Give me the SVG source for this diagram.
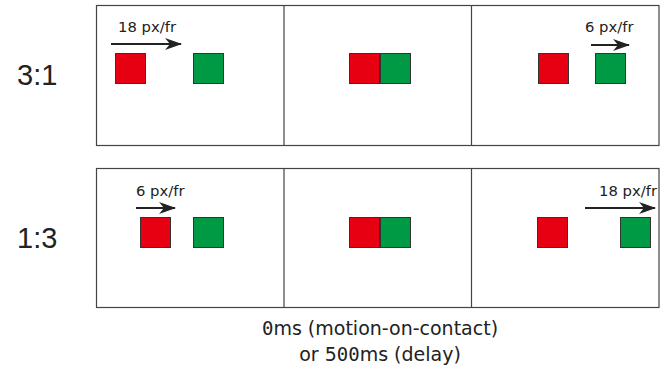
<svg xmlns="http://www.w3.org/2000/svg" width="665" height="369" viewBox="0 0 665 369">
<style>
.panel{fill:#fff;stroke:#444;stroke-width:1.2}
.div{stroke:#444;stroke-width:1.2}
.red{fill:#e60012;stroke:#333;stroke-width:1}
.green{fill:#009944;stroke:#333;stroke-width:1}
.arr{stroke:#222;stroke-width:2;fill:none}
.lbl{font-family:"DejaVu Sans",sans-serif;font-size:14.8px;fill:#222}
.row{font-family:"Liberation Sans",Arial,sans-serif;font-size:29px;fill:#222}
.cap{font-family:"DejaVu Sans",sans-serif;font-size:19px;fill:#222;text-anchor:middle}
.z{font-family:"DejaVu Sans Mono",monospace}
</style>
<defs>
<marker id="ah" markerUnits="userSpaceOnUse" markerWidth="18" markerHeight="14" refX="16" refY="6.5" orient="auto">
<path d="M0,0.5 L17,6.5 L0,12.5 L5,6.5 z" fill="#222"/>
</marker>
</defs>
<g id="row-labels">
<text class="row" x="17" y="85">3:1</text>
<text class="row" x="17" y="248">1:3</text>
</g>
<g id="panel-top">
<rect class="panel" x="96.5" y="5.5" width="562.5" height="140"/>
<line class="div" x1="284" y1="5.5" x2="284" y2="145.5"/>
<line class="div" x1="471.5" y1="5.5" x2="471.5" y2="145.5"/>
</g>
<g id="panel-bottom">
<rect class="panel" x="96.5" y="168.5" width="562.5" height="139"/>
<line class="div" x1="284" y1="168.5" x2="284" y2="307.5"/>
<line class="div" x1="471.5" y1="168.5" x2="471.5" y2="307.5"/>
</g>
<g id="t1">
<rect class="red" x="115.5" y="53.5" width="30" height="30"/>
<rect class="green" x="193.5" y="53.5" width="30" height="30"/>
<text class="lbl" x="118" y="31.5">18 px/fr</text>
</g>
<g id="t2">
<rect class="red" x="349.5" y="53.5" width="30" height="30"/>
<rect class="green" x="380.5" y="53.5" width="30" height="30"/>
</g>
<g id="t3">
<rect class="red" x="538.5" y="53.5" width="30" height="30"/>
<rect class="green" x="595.5" y="53.5" width="30" height="30"/>
<text class="lbl" x="585" y="31.5">6 px/fr</text>
</g>
<g id="b1">
<rect class="red" x="140.5" y="217.5" width="30" height="30"/>
<rect class="green" x="193.5" y="217.5" width="30" height="30"/>
<text class="lbl" x="136" y="196">6 px/fr</text>
</g>
<g id="b2">
<rect class="red" x="349.5" y="217.5" width="30" height="30"/>
<rect class="green" x="380.5" y="217.5" width="30" height="30"/>
</g>
<g id="b3">
<rect class="red" x="537.5" y="217.5" width="30" height="30"/>
<rect class="green" x="620.5" y="217.5" width="30" height="30"/>
<text class="lbl" x="657" y="196" text-anchor="end">18 px/fr</text>
</g>
<g id="connectors">
<line class="arr" x1="111" y1="44" x2="181" y2="44" marker-end="url(#ah)"/>
<line class="arr" x1="591" y1="45" x2="629" y2="45" marker-end="url(#ah)"/>
<line class="arr" x1="136" y1="208" x2="175" y2="208" marker-end="url(#ah)"/>
<line class="arr" x1="585" y1="208" x2="655" y2="208" marker-end="url(#ah)"/>
</g>
<g id="caption">
<text class="cap" x="380" y="335"><tspan class="z">0</tspan>ms (motion-on-contact)</text>
<text class="cap" x="380" y="361">or 5<tspan class="z">00</tspan>ms (delay)</text>
</g>
</svg>
